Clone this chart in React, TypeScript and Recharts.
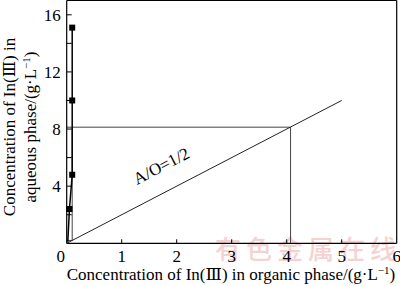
import React from "react";
import { LineChart, Line, XAxis, YAxis, ReferenceLine } from "recharts";

// equilibrium isotherm (organic vs aqueous In(III), g/L)
const isoX = [0.02, 0.05, 0.1, 0.1, 0.1];
const isoY = [0.1, 2.4, 4.8, 10.0, 15.1];
// operating line A/O = 1/2
const opX = [0, 5];
const opY = [0, 10];
// stage construction
const stepX = [0, 4.07, 4.07];
const stepY = [8.13, 8.13, 0];
const innerX = [0.1, 0.1, 0.02];
const innerY = [8.13, 0.2, 0.2];

const xTicks = [0, 1, 2, 3, 4, 5, 6];
const yTicks = [0, 2, 4, 6, 8, 10, 12, 14, 16];
const yLabelled = [4, 8, 12, 16];

const zip = (xs: number[], ys: number[]) => xs.map((x, i) => ({ x, y: ys[i] }));

const W = 400;
const H = 286;
const PL = 66.7; // plot left
const PB = 243.3; // plot bottom
const serif = "'Liberation Serif', 'DejaVu Serif', 'Noto Sans CJK SC', serif";

const XTick = (p: any) => {
  const v = p.payload.value;
  const cx = p.x;
  return (
    <g>
      {v > 0 && v < 6 && <line x1={cx} x2={cx} y1={PB} y2={PB - 4} stroke="#000" strokeWidth={1} />}
      <text x={v === 0 ? cx - 6 : cx} y={PB + 19} textAnchor="middle" fontFamily={serif} fontSize={17} fill="#000">
        {v}
      </text>
    </g>
  );
};

const YTick = (p: any) => {
  const v = p.payload.value;
  const cy = p.y;
  return (
    <g>
      {v > 0 && <line x1={PL} x2={PL + 5} y1={cy} y2={cy} stroke="#000" strokeWidth={1} />}
      {yLabelled.includes(v) && (
        <text x={PL - 6} y={cy + 6} textAnchor="end" fontFamily={serif} fontSize={17} fill="#000">
          {v}
        </text>
      )}
    </g>
  );
};

const Square = (p: any) => {
  if (p.index === 0) return <g key={`d${p.index}`} />;
  return <rect key={`d${p.index}`} x={p.cx - 3} y={p.cy - 3} width={6} height={6} fill="#000" />;
};

const YLabel = () => (
  <g fontFamily={serif} fontSize={17} fill="#000">
    <text transform="translate(15,127) rotate(-90)" textAnchor="middle">
      Concentration of In(Ⅲ) in
    </text>
    <text transform="translate(36,127) rotate(-90)" textAnchor="middle">
      aqueous phase/(g·L<tspan dy={-6} fontSize={11}>−1</tspan>
      <tspan dy={6}>)</tspan>
    </text>
  </g>
);

const XLabel = () => (
  <text x={231} y={280} textAnchor="middle" fontFamily={serif} fontSize={17} fill="#000">
    Concentration of In(Ⅲ) in organic phase/(g·L<tspan dy={-6} fontSize={11}>−1</tspan>
    <tspan dy={6}>)</tspan>
  </text>
);

export default function App() {
  return (
    <div style={{ position: "absolute", left: 0, top: 0, width: W, height: H, background: "#fff" }}>
      <svg width={W} height={H} style={{ position: "absolute", left: 0, top: 0, pointerEvents: "none" }}>
        <text
          x={215}
          y={259}
          fontFamily="'Noto Sans CJK SC', sans-serif"
          fontSize={26}
          fontWeight={500}
          letterSpacing={5}
          fill="#f5d2d2"
        >
          有色金属在线
        </text>
      </svg>
      <div style={{ position: "absolute", left: 0, top: 0 }}>
        <LineChart width={W} height={H} margin={{ top: 0.5, right: 3.3, left: 0, bottom: 0 }}>
          <XAxis
            type="number"
            dataKey="x"
            domain={[0, 6]}
            ticks={xTicks}
            height={42.7}
            axisLine={{ stroke: "#000", strokeWidth: 1.2 }}
            tickLine={false}
            tickSize={0}
            tick={XTick}
            interval={0}
            label={{ content: XLabel }}
          />
          <YAxis
            type="number"
            dataKey="y"
            domain={[0, 17]}
            ticks={yTicks}
            width={PL}
            axisLine={{ stroke: "#000", strokeWidth: 1.2 }}
            tickLine={false}
            tickSize={0}
            tick={YTick}
            interval={0}
            label={{ content: YLabel }}
          />
          <ReferenceLine y={17} stroke="#000" strokeWidth={1.2} />
          <ReferenceLine x={6} stroke="#000" strokeWidth={1.2} />
          <Line data={zip(stepX, stepY)} dataKey="y" stroke="#444" strokeWidth={1} dot={false} isAnimationActive={false} />
          <Line data={zip(innerX, innerY)} dataKey="y" stroke="#444" strokeWidth={1} dot={false} isAnimationActive={false} />
          <Line data={zip(opX, opY)} dataKey="y" stroke="#222" strokeWidth={1} dot={false} isAnimationActive={false} />
          <Line data={zip(isoX, isoY)} dataKey="y" stroke="#000" strokeWidth={1.5} dot={Square} isAnimationActive={false} />
        </LineChart>
      </div>
      <svg width={W} height={H} style={{ position: "absolute", left: 0, top: 0, pointerEvents: "none" }}>
        <text
          transform="translate(164,171) rotate(-27.4)"
          textAnchor="middle"
          fontFamily={serif}
          fontSize={17}
          fill="#000"
        >
          A/O=1/2
        </text>
      </svg>
    </div>
  );
}
